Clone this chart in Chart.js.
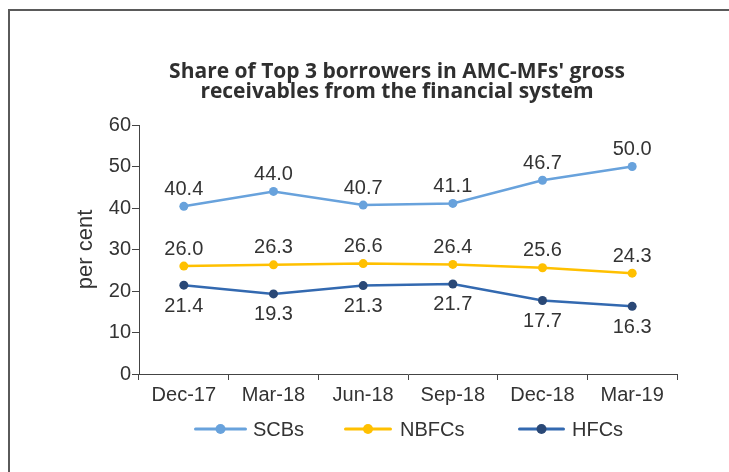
<!DOCTYPE html>
<html>
<head>
<meta charset="utf-8">
<script src="https://cdn.jsdelivr.net/npm/chart.js@4"></script>
<style>
  html, body { margin: 0; padding: 0; background: #fff; }
  #wrap { position: relative; width: 729px; height: 472px; overflow: hidden; }
  #frame { position: absolute; left: 8px; top: 9px; width: 800px; height: 600px; border: 2px solid #5a5a5a; box-sizing: border-box; }
  canvas { position: absolute; left: 0; top: 0; }
</style>
</head>
<body>
<div id="wrap">
  <div id="frame"></div>
  <canvas id="c" width="729" height="472"></canvas>
</div>
<script>
const categories = ['Dec-17', 'Mar-18', 'Jun-18', 'Sep-18', 'Dec-18', 'Mar-19'];
const scbs  = [40.4, 44.0, 40.7, 41.1, 46.7, 50.0];
const nbfcs = [26.0, 26.3, 26.6, 26.4, 25.6, 24.3];
const hfcs  = [21.4, 19.3, 21.3, 21.7, 17.7, 16.3];
const seriesNames = ['SCBs', 'NBFCs', 'HFCs'];
const titleLines = ["Share of Top 3 borrowers in AMC-MFs' gross", 'receivables from the financial system'];
const yTitle = 'per cent';

const TXT = '#333333';
const LABEL_FONT = '"Liberation Sans", Arial, sans-serif';

const colors = [
  { line: '#68a2dc', dot: '#68a2dc' },
  { line: '#ffc000', dot: '#ffc000' },
  { line: '#3369b0', dot: '#2a4876' }
];

// legend layout (icon start, icon length, text start), y centre
const legendLayout = { y: 429, items: [ { x: 194, w: 53, t: 253 }, { x: 344, w: 48, t: 400 }, { x: 518, w: 47, t: 572 } ] };

const valueLabels = {
  id: 'valueLabels',
  afterDatasetsDraw(chart) {
    const ctx = chart.ctx;
    ctx.save();
    ctx.font = '20px ' + LABEL_FONT;
    ctx.fillStyle = TXT;
    ctx.textAlign = 'center';
    ctx.textBaseline = 'middle';
    chart.data.datasets.forEach((ds, i) => {
      const meta = chart.getDatasetMeta(i);
      const below = i === 2;
      meta.data.forEach((pt, j) => {
        const y = below ? pt.y + 21 : pt.y - 17;
        ctx.fillText(ds.data[j].toFixed(1), pt.x, y);
      });
    });
    ctx.restore();
  }
};

const customLegend = {
  id: 'customLegend',
  afterDraw(chart) {
    const ctx = chart.ctx;
    ctx.save();
    ctx.font = '20px ' + LABEL_FONT;
    ctx.textBaseline = 'middle';
    ctx.textAlign = 'left';
    chart.data.datasets.forEach((ds, i) => {
      const it = legendLayout.items[i];
      const y = legendLayout.y;
      ctx.strokeStyle = colors[i].line;
      ctx.lineWidth = 3;
      ctx.lineCap = 'round';
      ctx.beginPath(); ctx.moveTo(it.x + 1.5, y); ctx.lineTo(it.x + it.w - 1.5, y); ctx.stroke();
      ctx.fillStyle = colors[i].dot;
      ctx.beginPath(); ctx.arc(it.x + it.w / 2, y, 5, 0, Math.PI * 2); ctx.fill();
      ctx.fillStyle = TXT;
      ctx.fillText(ds.label, it.t, y + 1);
    });
    ctx.restore();
  }
};

const shiftTitle = {
  id: 'shiftTitle',
  afterLayout(chart) {
    if (chart.titleBlock) { chart.titleBlock.left = 65; chart.titleBlock.right = 729; }
  }
};

new Chart(document.getElementById('c'), {
  type: 'line',
  data: {
    labels: categories,
    datasets: [
      { label: seriesNames[0], data: scbs },
      { label: seriesNames[1], data: nbfcs },
      { label: seriesNames[2], data: hfcs }
    ].map((d, i) => Object.assign(d, {
      borderColor: colors[i].line,
      backgroundColor: colors[i].dot,
      pointBackgroundColor: colors[i].dot,
      pointBorderColor: colors[i].dot,
      pointRadius: 4.5,
      pointBorderWidth: 0,
      borderWidth: 2.5,
      tension: 0,
      pointStyle: 'circle'
    }))
  },
  options: {
    responsive: false,
    animation: false,
    events: [],
    layout: { padding: { left: 60, right: 52, top: 10, bottom: 65 } },
    plugins: {
      title: {
        display: true,
        text: titleLines,
        color: '#2f2f2f',
        font: { family: '"Open Sans", sans-serif', size: 21, weight: 'bold', lineHeight: '20px' },
        padding: { top: 52, bottom: 23 }
      },
      legend: { display: false },
      tooltip: { enabled: false }
    },
    scales: {
      x: {
        offset: true,
        afterFit(scale) { scale.height = 33; },
        grid: { offset: true, drawOnChartArea: false, tickLength: 6, color: '#444' },
        border: { color: '#444', width: 1 },
        ticks: { color: TXT, font: { family: LABEL_FONT, size: 20 }, padding: 3, maxRotation: 0, autoSkip: false }
      },
      y: {
        min: 0, max: 60,
        afterFit(scale) { scale.width = 79; },
        grid: { drawOnChartArea: false, tickLength: 7, color: '#444' },
        border: { color: '#444', width: 1 },
        ticks: { stepSize: 10, color: TXT, font: { family: LABEL_FONT, size: 20 }, padding: 1 },
        title: { display: true, text: yTitle, color: TXT, font: { family: LABEL_FONT, size: 22 }, padding: { top: 13, bottom: 0 } }
      }
    }
  },
  plugins: [valueLabels, customLegend, shiftTitle]
});
</script>
</body>
</html>
